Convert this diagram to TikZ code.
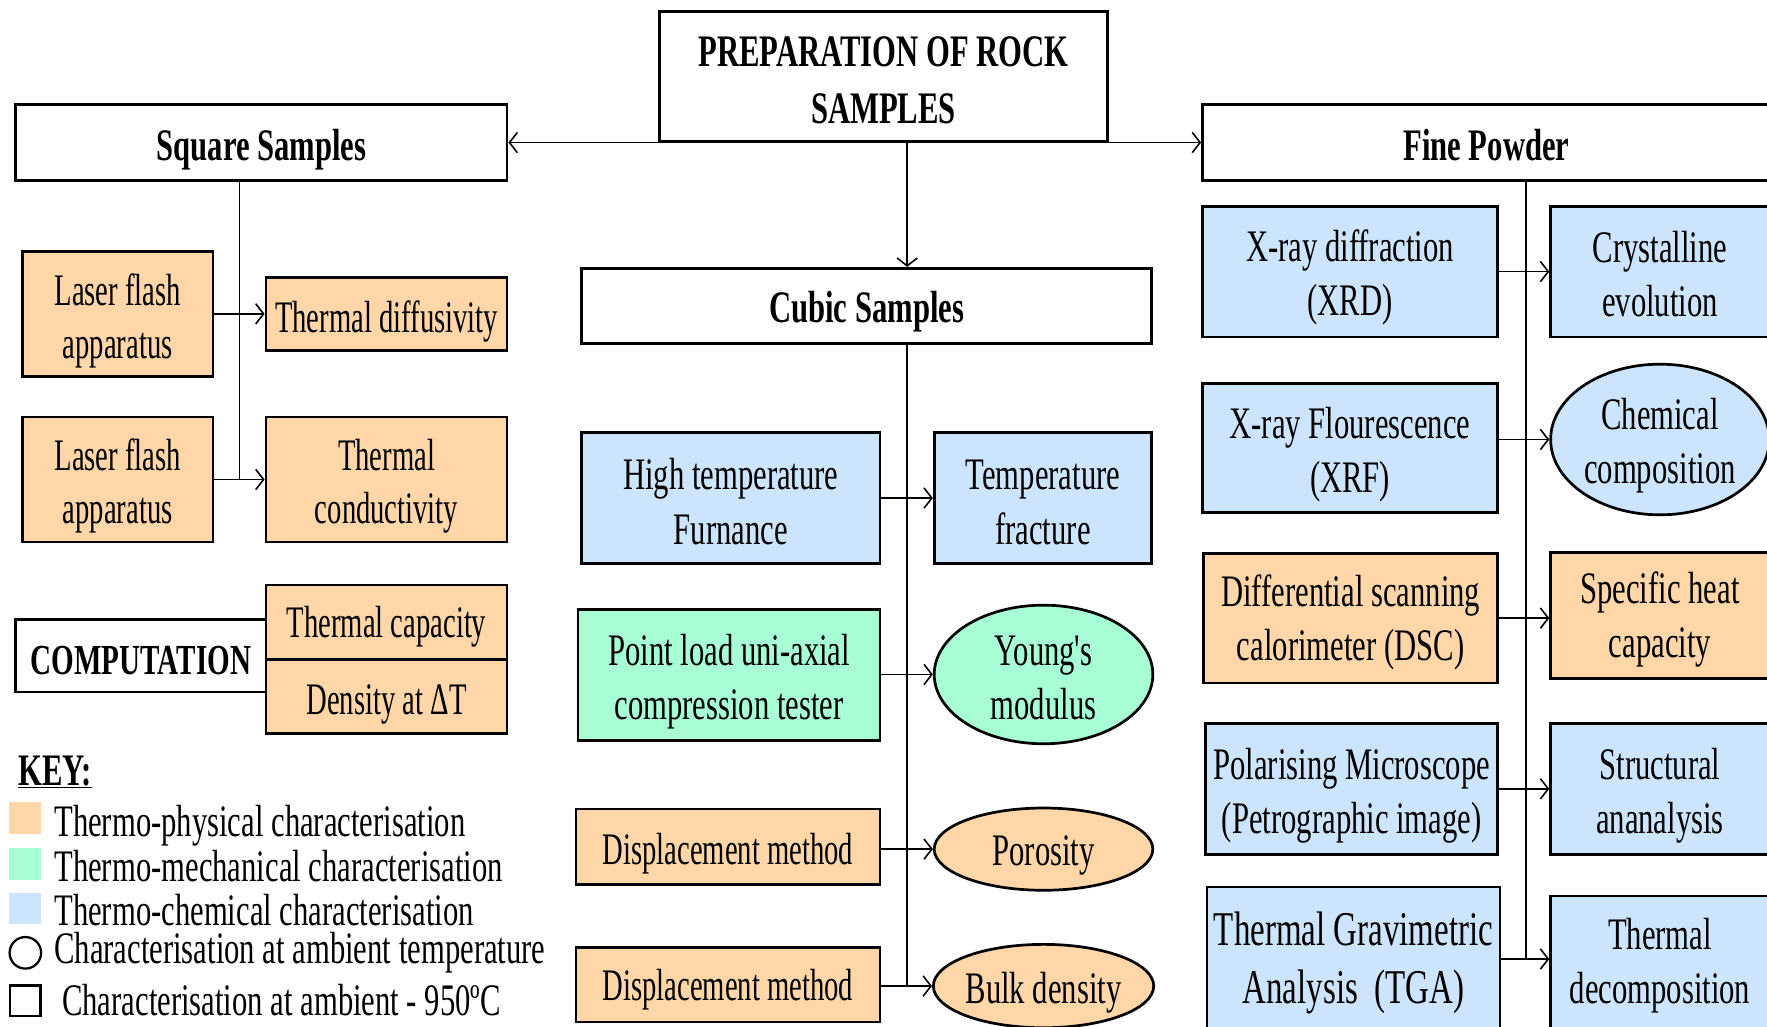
\documentclass[tikz,border=0pt]{standalone}
\usepackage{fontspec}
\setmainfont{Liberation Serif}[FakeStretch=0.68, Ligatures=TeXOff]
\newfontfamily\narrowf{Liberation Serif}[FakeStretch=0.635, Ligatures=TeXOff]
\usetikzlibrary{shapes.geometric, arrows.meta, calc}
\definecolor{cphys}{RGB}{254,214,168}
\definecolor{cmech}{RGB}{168,254,212}
\definecolor{cchem}{RGB}{204,228,252}
\newcommand\myTop[1]{\rule{0pt}{#1pt}}
\begin{document}
\begin{tikzpicture}[x=1pt,y=-1pt,
  box/.style={draw, line width=2.4pt, inner sep=0pt, align=center, font=\fontsize{40}{48}\selectfont},
  nbox/.style={box, font=\narrowf\fontsize{40}{47}\selectfont},
  hdr/.style={box, fill=white, font=\bfseries\fontsize{40}{50}\selectfont},
  ell/.style={box, ellipse},
  sz/.style 2 args={minimum width=#1pt, minimum height=#2pt},
  conn/.style={line width=1.4pt},
  arr/.style={conn, -{Straight Barb[length=7pt,width=18pt]}},
  phys/.style={fill=cphys}, mech/.style={fill=cmech}, chm/.style={fill=cchem},
  keyt/.style={anchor=base west, inner sep=0pt, text height=26pt, text depth=0pt, font=\fontsize{40}{40}\selectfont},
  swatch/.style={minimum size=28pt, inner sep=0pt},
]
\useasboundingbox (0,0) rectangle (1568,911);
\clip (0,0) rectangle (1568,911);

% headers
\node[hdr, sz={398}{115}] (prep) at (784,67.5) {\myTop{34}PREPARATION OF ROCK\\SAMPLES};
\node[hdr, sz={436}{67}] (square) at (232,126.5) {\myTop{40}Square Samples};
\node[hdr, sz={504}{67}] (fine) at (1319,126.5) {\myTop{32}Fine Powder};
\node[hdr, sz={506}{67}] (cubic) at (769,271.5) {\myTop{38}Cubic Samples};

% left column
\node[nbox, phys, sz={169}{111}] (lf1) at (104.5,278.5) {\myTop{40}Laser flash\\apparatus};
\node[nbox, phys, sz={214}{65}] (tdiff) at (343,278.5) {\myTop{41}Thermal diffusivity};
\node[nbox, phys, sz={169}{111}] (lf2) at (104.5,425.5) {\myTop{40}Laser flash\\apparatus};
\node[nbox, phys, sz={214}{111}] (tcond) at (343,425.5) {\myTop{40}Thermal\\conductivity};
\node[hdr, sz={222}{64}, font=\bfseries\fontsize{38}{40}\selectfont] (comp) at (125,582) {\myTop{34}COMPUTATION};
\node[nbox, phys, sz={214}{66}] (tcap) at (343,552) {\myTop{36}Thermal capacity};
\node[nbox, phys, sz={214}{66}] (dens) at (343,618) {\myTop{40}Density at ΔT};

% middle column
\node[box, chm, sz={265}{116}] (htf) at (648.5,442) {\myTop{34}High temperature\\Furnance};
\node[box, chm, sz={193}{116}] (tfrac) at (925.5,442) {\myTop{34}Temperature\\fracture};
\node[box, mech, sz={268}{116}] (pl) at (647,599) {\myTop{40}Point load uni-axial\\compression tester};
\node[ell, mech, sz={194}{123}] (young) at (926,598.5) {\myTop{32}Young's\\modulus};
\node[nbox, phys, sz={270}{67}] (dm1) at (646,751.5) {\myTop{40}Displacement method};
\node[ell, phys, sz={194}{73}] (poro) at (926,753.5) {\myTop{38}Porosity};
\node[nbox, phys, sz={270}{66}] (dm2) at (646,874) {\myTop{36}Displacement method};
\node[ell, phys, sz={194}{74}] (bulk) at (926,875) {\myTop{40}Bulk density};

% right column
\node[box, chm, sz={262}{116}] (xrd) at (1198,241) {\myTop{38}X-ray diffraction\\(XRD)};
\node[box, chm, sz={194}{116}] (cryst) at (1473,241) {\myTop{32}Crystalline\\evolution};
\node[box, chm, sz={262}{115}] (xrf) at (1198,397.5) {\myTop{40}X-ray Flourescence\\(XRF)};
\node[ell, chm, sz={194}{130}] (chem) at (1473,390) {\myTop{38}Chemical\\composition};
\node[box, phys, sz={261}{115}] (dsc) at (1198.5,548.5) {\myTop{36}Differential scanning\\calorimeter (DSC)};
\node[box, phys, sz={194}{112}] (spec) at (1473,546) {\myTop{36}Specific heat\\capacity};
\node[box, chm, sz={259}{116}] (pol) at (1199.5,700) {\myTop{40}Polarising Microscope\\(Petrographic image)};
\node[box, chm, sz={194}{116}] (struct) at (1473,700) {\myTop{40}Structural\\ananalysis};
\node[box, chm, sz={260}{128}, font=\fontsize{43}{51}\selectfont] (tga) at (1201,851) {\myTop{37}Thermal Gravimetric\\Analysis\ \ (TGA)};
\node[box, chm, sz={194}{120}] (tdec) at (1473,855) {\myTop{32}Thermal\\decomposition};

% connectors
\coordinate (j) at (805,126.5);
\coordinate (sqx) at (212.5,0);
\coordinate (cbx) at (805,0);
\coordinate (fpx) at (1354,0);
\draw[arr] (j) -- (square.east);
\draw[arr] (j) -- (fine.west);
\draw[arr] (j) -- (j |- cubic.north);

\draw[conn] (square.south -| sqx) -- (tcond.west -| sqx);
\draw[arr] (lf1.east) -- (tdiff.west);
\draw[arr] (lf2.east) -- (tcond.west);

\draw[conn] (cubic.south -| cbx) -- (bulk.west -| cbx);
\draw[arr] (htf.east) -- (tfrac.west);
\draw[arr] (pl.east |- young.west) -- (young.west);
\draw[arr] (dm1.east |- poro.west) -- (poro.west);
\draw[arr] (dm2.east |- bulk.west) -- (bulk.west);

\draw[conn] (fine.south -| fpx) -- (tga.east -| fpx);
\draw[arr] (xrd.east) -- (cryst.west);
\draw[arr] (xrf.east |- chem.west) -- (chem.west);
\draw[arr] (dsc.east) -- (dsc.east -| spec.west);
\draw[arr] (pol.east) -- (struct.west);
\draw[arr] (tga.east) -- (tga.east -| tdec.west);

% key
\node[anchor=base west, inner sep=0pt, font=\bfseries\fontsize{40}{40}\selectfont] (key) at (16,697) {\underline{KEY:}};
\node[swatch, fill=cphys] (k1) at (22,726) {};
\node[keyt] (t1) at (48,742) {Thermo-physical characterisation};
\node[swatch, fill=cmech] (k2) at (22,766.5) {};
\node[keyt] (t2) at (48,782) {Thermo-mechanical characterisation};
\node[swatch, fill=cchem] (k3) at (22,806) {};
\node[keyt] (t3) at (48,821) {Thermo-chemical characterisation};
\node[draw, circle, line width=2pt, minimum size=28pt, inner sep=0pt] (k4) at (22.5,845.5) {};
\node[keyt] (t4) at (48,855) {Characterisation at ambient temperature};
\node[draw, line width=2pt, minimum size=27pt, inner sep=0pt] (k5) at (22.5,888) {};
\node[keyt] (t5) at (55,901) {Characterisation at ambient - 950ºC};
\end{tikzpicture}
\end{document}
